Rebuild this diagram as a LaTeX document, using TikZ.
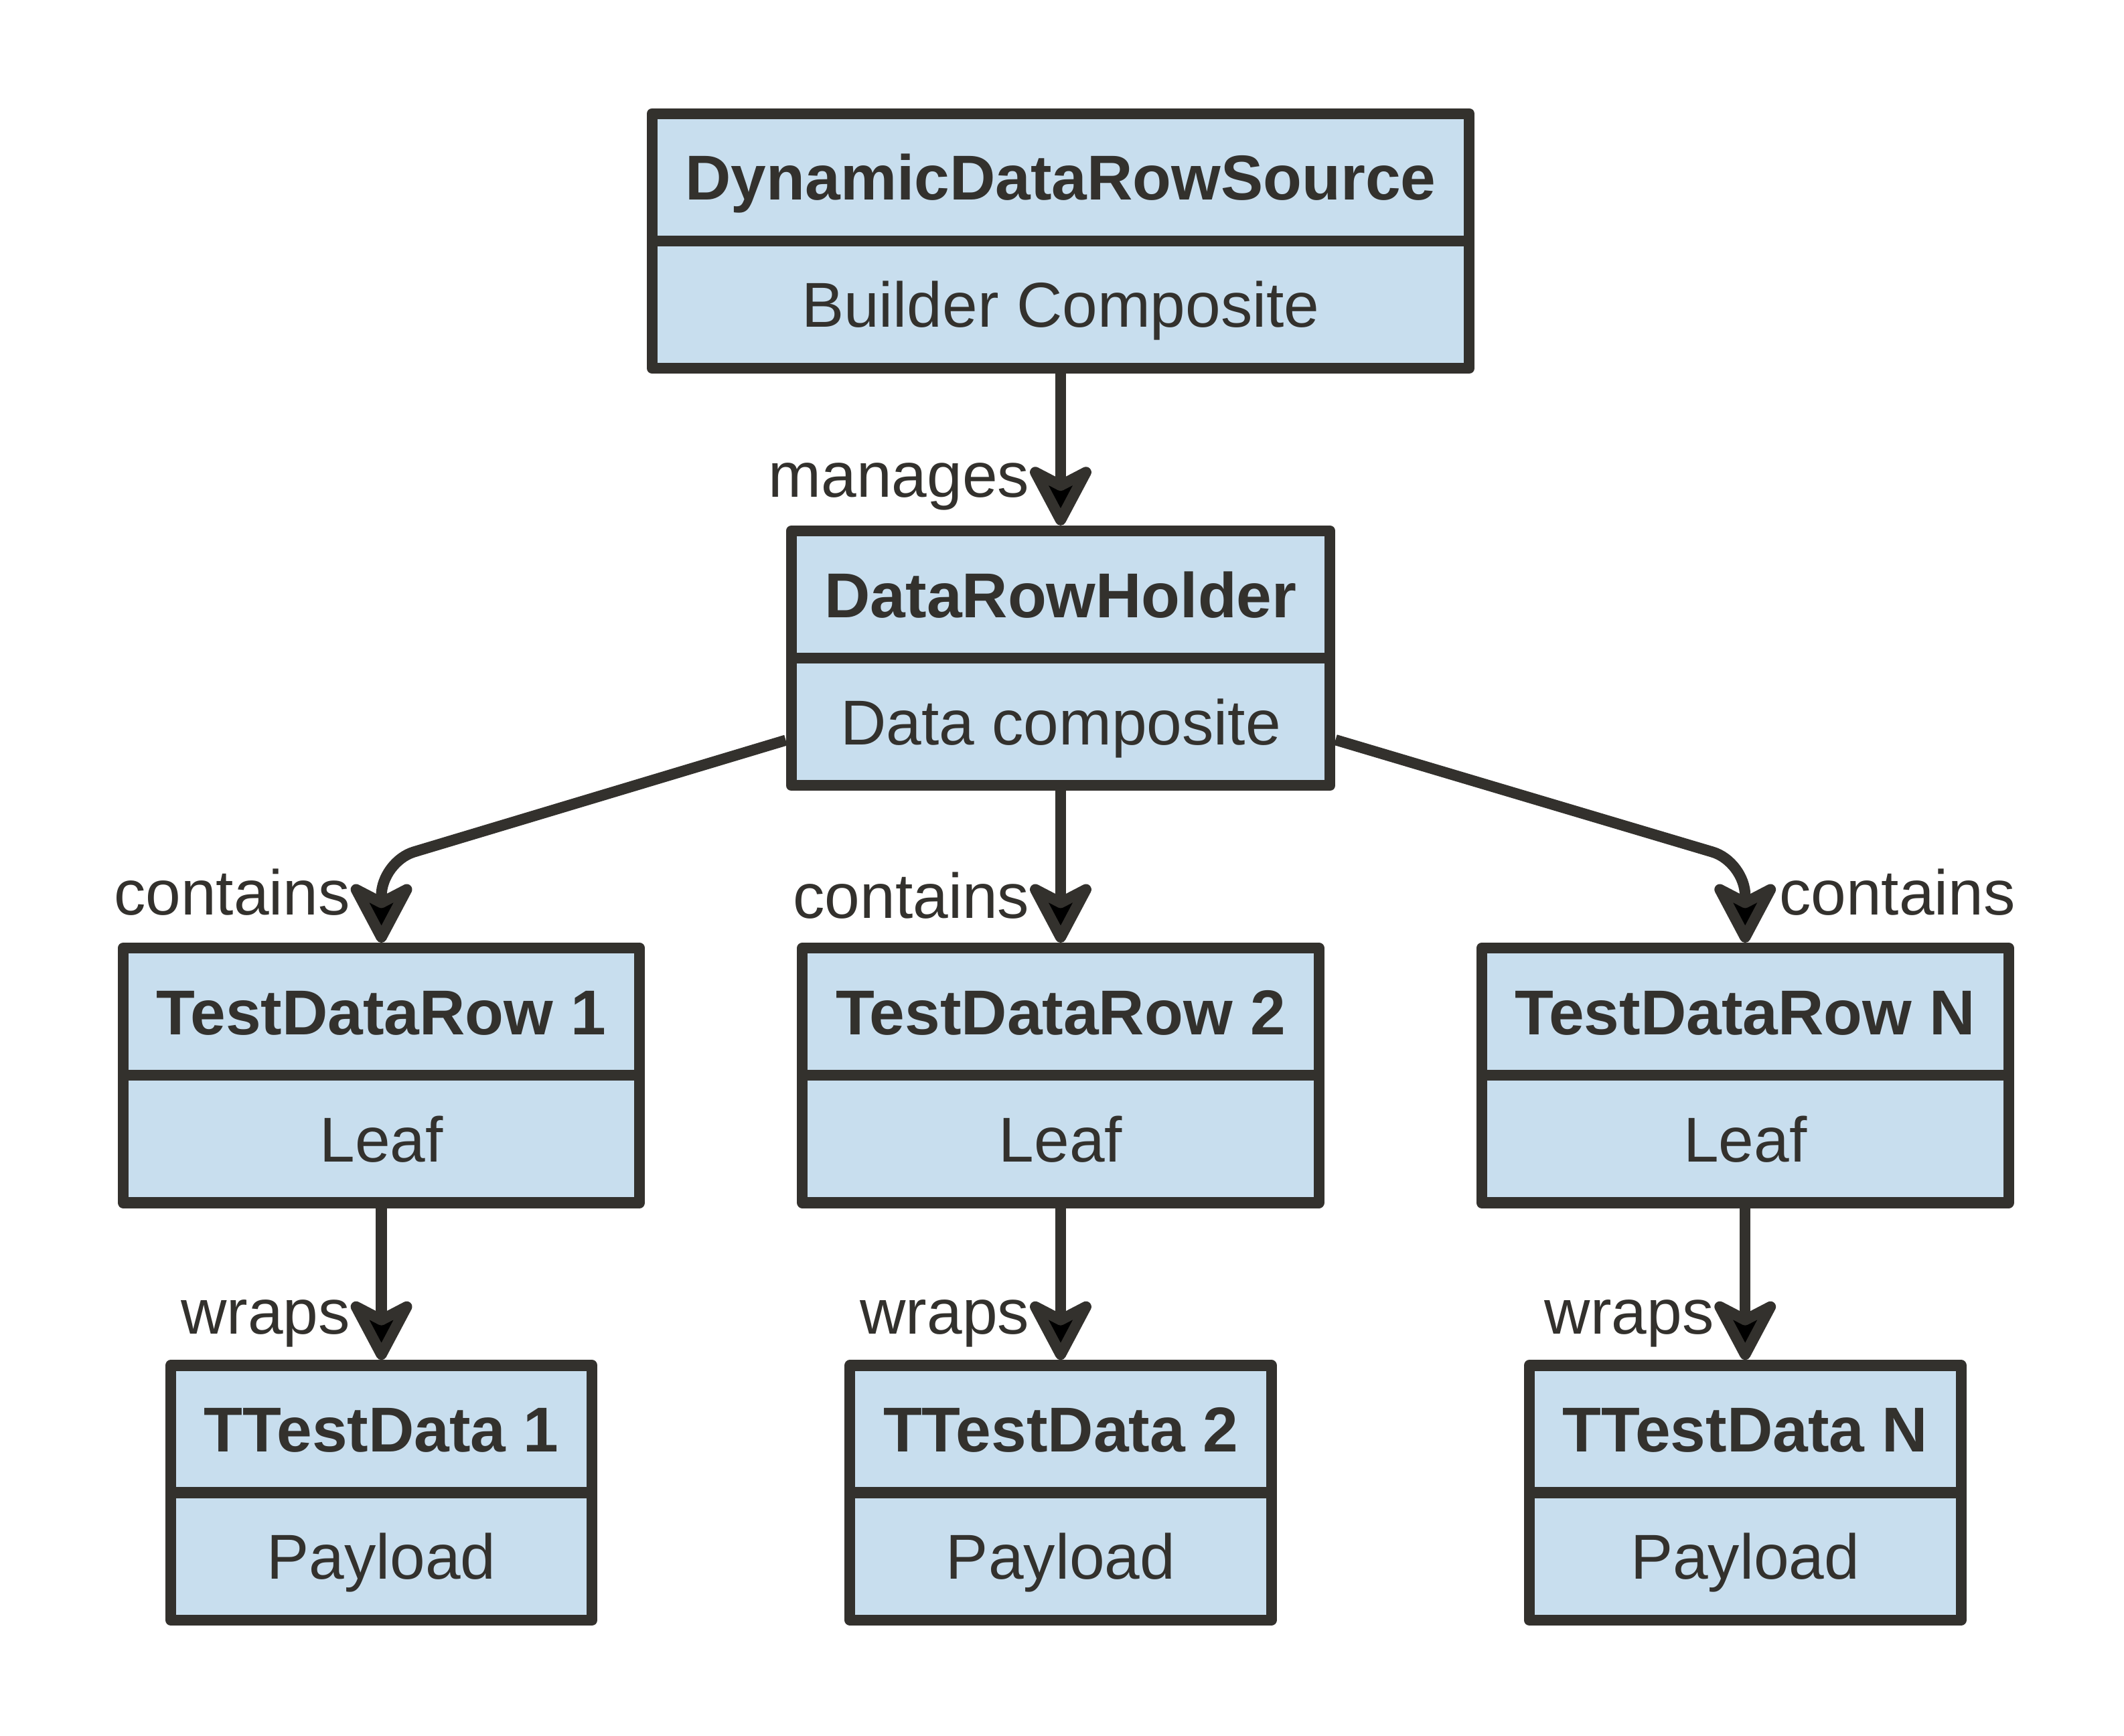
\documentclass[tikz,border=0pt]{standalone}
\usepackage{fontspec}
\setmainfont{Liberation Sans}
\usepackage{xcolor}
\usepackage{tikz}
\usetikzlibrary{arrows.meta, positioning, shapes.multipart}

\definecolor{ink}{HTML}{33312D}
\definecolor{boxblue}{HTML}{C8DEEE}
\newcommand{\partstrut}{\rule[-5.2mm]{0pt}{17.1mm}}
\newcommand{\classtext}[2]{\partstrut\textbf{#1}\nodepart{two}\partstrut #2}

\begin{document}
\begin{tikzpicture}[x=0.2mm, y=0.2mm,
    font=\fontsize{26.5}{32}\selectfont,
    cls/.style={rectangle split, rectangle split parts=2, draw=ink, fill=boxblue,
        line width=1.6mm, line join=round, inner xsep=4.9mm, inner ysep=0pt, text=ink},
    conn/.style={draw=ink, line width=1.6mm, rounded corners=5mm,
        -{Stealth[length=10.5mm, width=11mm, inset=2.8mm, round]}},
    lbl/.style={text=ink, inner sep=0pt}]
    \useasboundingbox (0,0) rectangle (1560,1275);

    \node[cls] (src) at (779,1098) {\classtext{DynamicDataRowSource}{Builder Composite}};
    \node[cls, below=22.3mm of src] (holder) {\classtext{DataRowHolder}{Data composite}};

    \node[cls, below=22.3mm of holder] (row2) {\classtext{TestDataRow 2}{Leaf}};
    \node[cls, left=22.3mm of row2] (row1) {\classtext{TestDataRow 1}{Leaf}};
    \node[cls, right=22.3mm of row2] (rowN) {\classtext{TestDataRow N}{Leaf}};

    \node[cls, below=22.3mm of row1] (data1) {\classtext{TTestData 1}{Payload}};
    \node[cls, below=22.3mm of row2] (data2) {\classtext{TTestData 2}{Payload}};
    \node[cls, below=22.3mm of rowN] (dataN) {\classtext{TTestData N}{Payload}};

    \coordinate (k1) at ([yshift=11.9mm]row1.north);
    \coordinate (kN) at ([yshift=11.9mm]rowN.north);

    \draw[conn] (src) -- node[lbl, pos=0.745, left=3.8mm] {manages} (holder);

    \draw[conn] (holder) -- (k1) -- node[lbl, pos=0.38, left=3.8mm] {contains} (row1);
    \draw[conn] (holder) -- node[lbl, pos=0.69, left=3.8mm] {contains} (row2);
    \draw[conn] (holder) -- (kN) -- node[lbl, pos=0.38, right=4.2mm] {contains} (rowN);

    \draw[conn] (row1) -- node[lbl, pos=0.76, left=3.8mm] {wraps} (data1);
    \draw[conn] (row2) -- node[lbl, pos=0.76, left=3.8mm] {wraps} (data2);
    \draw[conn] (rowN) -- node[lbl, pos=0.76, left=3.8mm] {wraps} (dataN);
\end{tikzpicture}
\end{document}
